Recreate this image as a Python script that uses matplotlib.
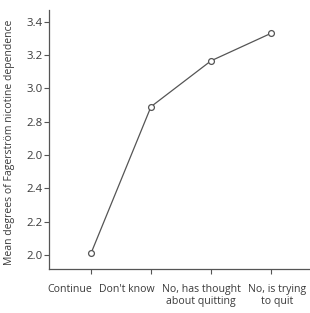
import matplotlib.pyplot as plt
from matplotlib.transforms import ScaledTranslation

# data
categories = ['Continue', "Don't know", 'No, has thought\nabout quitting', 'No, is trying\nto quit']
values = [2.01, 2.89, 3.165, 3.33]
yticks = [2.0, 2.2, 2.4, 2.6, 2.8, 3.0, 3.2, 3.4]
ytick_labels = ['2.0', '2.2', '2.4', '2.0', '2.8', '3.0', '3.2', '3.4']

plt.rcParams['font.family'] = ['Open Sans', 'DejaVu Sans']
grey = '#555555'
txt = '#3a3a3a'

fig = plt.figure(figsize=(3.10, 3.13), dpi=100)
ax = fig.add_axes([49 / 310, 1 - 269 / 313, 261 / 310, 259 / 313])

x = range(len(categories))
ax.plot(x, values, color=grey, lw=0.9, marker='o', ms=4.2,
        mfc='white', mec=grey, mew=0.9)

ax.set_xlim(-0.7, 3.65)
ax.set_ylim(1.916, 3.47)
ax.set_xticks(list(x))
ax.set_xticklabels(categories, fontsize=7.6, color=txt, linespacing=1.2)
ax.set_yticks(yticks)
ax.set_yticklabels(ytick_labels, fontsize=8.2, color=txt)
ax.set_ylabel('Mean degrees of Fagerström nicotine dependence',
              fontsize=7.5, color=txt)
ax.yaxis.set_label_coords(-0.13, 0.49)

for s in ['top', 'right']:
    ax.spines[s].set_visible(False)
for s in ['left', 'bottom']:
    ax.spines[s].set_color(grey)
    ax.spines[s].set_linewidth(0.9)
ax.tick_params(colors=grey, length=3.6, width=0.8, labelcolor=txt)
ax.tick_params(axis='x', pad=7)
ax.tick_params(axis='y', pad=1.2)

# labels in the original sit off-centre from their ticks (pixels)
shifts = [-21, -24, -10, 6]
for lab, dx in zip(ax.get_xticklabels(), shifts):
    lab.set_transform(lab.get_transform() + ScaledTranslation(dx / 100, 0, fig.dpi_scale_trans))

plt.savefig('out.png', dpi=100)
